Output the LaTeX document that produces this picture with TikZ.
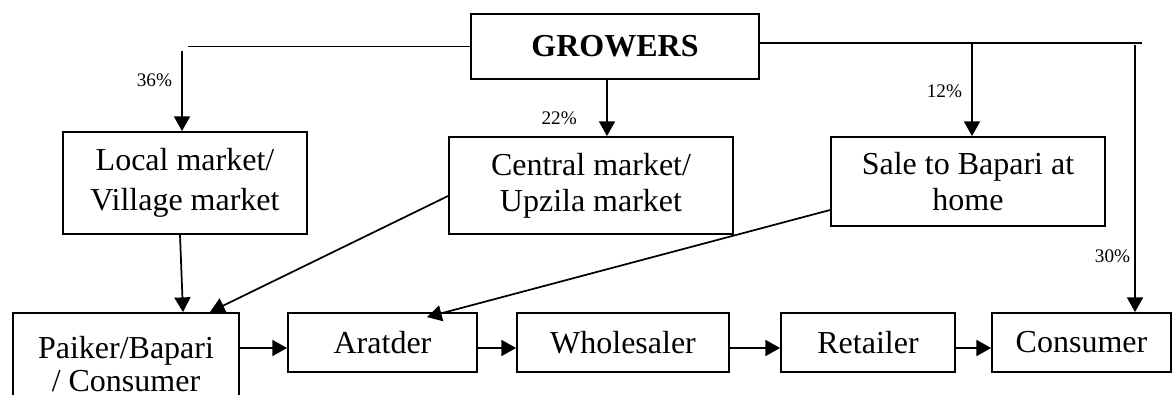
\documentclass[tikz,border=0pt]{standalone}
\usepackage{fontspec}
\setmainfont{Liberation Serif}
\usetikzlibrary{arrows.meta, calc}

\tikzset{
  box/.style={draw, line width=0.7pt, align=center, inner sep=0pt,
    font=\fontsize{12}{13.5}\selectfont},
  flow/.style={-{Triangle[length=5.5pt, width=6pt]}, line width=0.65pt},
  share/.style={font=\fontsize{7.2}{8}\selectfont, inner sep=0pt}
}

\begin{document}
\begin{tikzpicture}[x=0.375pt, y=-0.375pt]
\useasboundingbox (0,0) rectangle (1173,395);

% Top level
\node[box, font=\bfseries\fontsize{12}{13.5}\selectfont, minimum width=108pt, minimum height=24.4pt] (growers) at (615,46.5) {GROWERS};

% Markets
\node[box, font=\fontsize{12}{15}\selectfont, minimum width=91.5pt, minimum height=38.25pt] (local) at (185,183) {Local market/\\Village market};
\node[box, minimum width=106.5pt, minimum height=36.4pt] (central) at (591,185.5) {Central market/\\Upzila market};
\node[box, minimum width=102.75pt, minimum height=33.4pt] (sale) at (968,181.5) {Sale to Bapari at\\home};

% Chain
\node[box, font=\fontsize{12}{12.5}\selectfont, minimum width=84.75pt, minimum height=38.25pt] (paiker) at (126,364) {Paiker/Bapari\\/ Consumer};
\node[box, minimum width=70.9pt, minimum height=22.1pt] (aratder) at (382.5,342.5) {Aratder};
\node[box, minimum width=79.5pt, minimum height=22.1pt] (wholesaler) at (623,342.5) {Wholesaler};
\node[box, minimum width=65.25pt, minimum height=22.1pt] (retailer) at (868,342.5) {Retailer};
\node[box, minimum width=67.1pt, minimum height=22.1pt] (consumer) at (1081.5,342.5) {Consumer};

% Branch points
\coordinate (lend) at (188,46.5);
\coordinate (ltop) at (182,51);
\coordinate (rend) at (1142,43);
\coordinate (rtop) at (1135,45);
\coordinate (stop) at (972,43);

% Shares from growers
\draw[line width=0.65pt] (growers.west) -- (lend);
\draw[flow] (ltop) -- (ltop |- local.north) node[share, pos=0.37, left=3.4pt] {36\%};
\draw[flow] ($(growers.south)+(-8,0)$) -- ($(central.north)+(16,0)$) node[share, pos=0.69, left=11pt] {22\%};
\draw[line width=0.65pt] (growers.east |- rend) -- (rend);
\draw[flow] (stop) -- (stop |- sale.north) node[share, pos=0.52, left=3.4pt] {12\%};
\draw[flow] (rtop) -- (rtop |- consumer.north) node[share, pos=0.79, left=1.5pt] {30\%};

% Markets to traders
\draw[flow] ($(local.south)+(-5,0)$) -- ($(paiker.north)+(57,0)$);
\draw[flow] ($(central.west)+(0,10.5)$) -- ($(paiker.north)+(84,0)$);
\draw[flow] ($(sale.west)+(0,28.5)$) -- ($(aratder.north)+(44.5,5)$);

% Along the chain
\foreach \a/\b in {paiker/aratder, aratder/wholesaler, wholesaler/retailer, retailer/consumer}
  \draw[flow] ($(\b.west -| \a.east)+(0,5.5)$) -- ($(\b.west)+(0,5.5)$);
\end{tikzpicture}
\end{document}
